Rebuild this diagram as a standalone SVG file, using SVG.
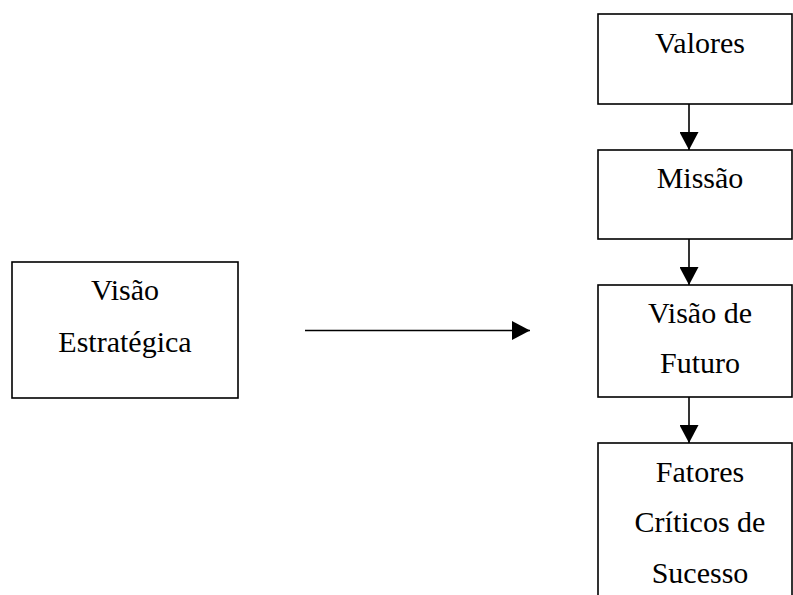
<svg xmlns="http://www.w3.org/2000/svg" width="793" height="595" viewBox="0 0 793 595">
<defs>
<style>
.box{fill:#fff;stroke:#000;stroke-width:1.6}
.t{font-family:"Liberation Serif","Times New Roman",serif;font-size:30px;fill:#000;text-anchor:middle}
.c{stroke:#000;stroke-width:1.6;fill:none}
</style>
<marker id="ah" viewBox="0 0 18 19" refX="18" refY="9.5" markerWidth="18" markerHeight="19" markerUnits="userSpaceOnUse" orient="auto">
<path d="M0,0 L18,9.5 L0,19 Z" fill="#000"/>
</marker>
</defs>
<rect width="793" height="595" fill="#fff"/>
<g id="visao-estrategica">
<rect class="box" x="12" y="262" width="226" height="136"/>
<text class="t" x="125" y="300">Visão</text>
<text class="t" x="125" y="352">Estratégica</text>
</g>
<g id="valores">
<rect class="box" x="598" y="14" width="194" height="90"/>
<text class="t" x="700" y="53">Valores</text>
</g>
<g id="missao">
<rect class="box" x="598" y="150" width="194" height="89"/>
<text class="t" x="700" y="188">Missão</text>
</g>
<g id="visao-futuro">
<rect class="box" x="598" y="285" width="194" height="112"/>
<text class="t" x="700" y="323">Visão de</text>
<text class="t" x="700" y="373">Futuro</text>
</g>
<g id="fatores">
<rect class="box" x="598" y="443" width="194" height="170"/>
<text class="t" x="700" y="482">Fatores</text>
<text class="t" x="700" y="532">Críticos de</text>
<text class="t" x="700" y="583">Sucesso</text>
</g>
<g id="connectors">
<line class="c" x1="305" y1="330.5" x2="530" y2="330.5" marker-end="url(#ah)"/>
<line class="c" x1="689" y1="104" x2="689" y2="150" marker-end="url(#ah)"/>
<line class="c" x1="689" y1="239" x2="689" y2="285" marker-end="url(#ah)"/>
<line class="c" x1="689" y1="397" x2="689" y2="443" marker-end="url(#ah)"/>
</g>
</svg>
